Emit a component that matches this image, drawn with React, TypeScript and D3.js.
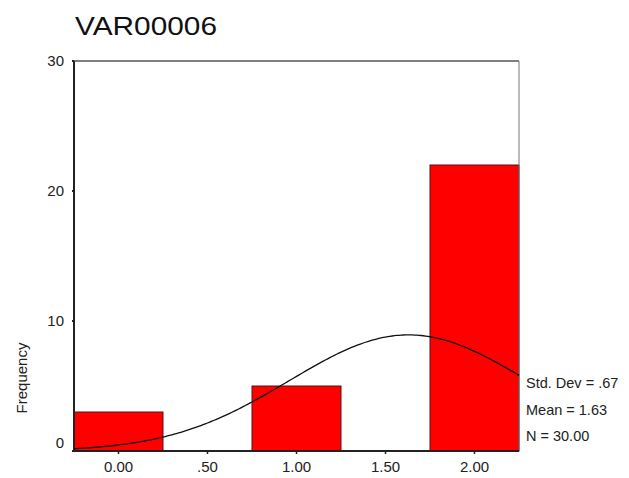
import React from "react";
import * as d3 from "d3";

const title = "VAR00006";
const binCenters = [0, 0.5, 1, 1.5, 2];
const counts = [3, 0, 5, 0, 22];
const xTickLabels = ["0.00", ".50", "1.00", "1.50", "2.00"];
const yTicks = [0, 10, 20, 30];
const stats = { sd: 0.67, mean: 1.63, n: 30 };
const statLabels = ["Std. Dev = .67", "Mean = 1.63", "N = 30.00"];
const binWidth = 0.5;

export default function App() {
  const W = 629, H = 478;
  const left = 74, right = 519, top = 61, bottom = 451;
  const x = d3.scaleLinear().domain([-0.25, 2.25]).range([left, right]);
  const y = d3.scaleLinear().domain([0, 30]).range([bottom, top]);
  const font = "Liberation Sans, Arial, sans-serif";

  const curvePts = d3.range(0, 201).map((i) => {
    const v = -0.25 + (2.5 * i) / 200;
    const z = (v - stats.mean) / stats.sd;
    const f = (stats.n * binWidth) / (stats.sd * Math.sqrt(2 * Math.PI)) * Math.exp(-0.5 * z * z);
    return [v, f] as [number, number];
  });
  const line = d3.line<[number, number]>().x((d) => x(d[0])).y((d) => y(d[1])).curve(d3.curveLinear);

  return (
    <svg width={W} height={H} style={{ position: "absolute", left: 0, top: 0, background: "#fff" }}>
      <text x={75} y={35} fontFamily={font} fontSize={26} textLength={142} lengthAdjust="spacingAndGlyphs" fill="#111">{title}</text>
      {binCenters.map((c, i) =>
        counts[i] > 0 ? (
          <rect key={i} x={x(c - binWidth / 2)} y={y(counts[i])} width={x(c + binWidth / 2) - x(c - binWidth / 2)} height={y(0) - y(counts[i])} fill="#ff0000" stroke="#5a1010" strokeWidth={1} />
        ) : null
      )}
      <line x1={left} x2={right} y1={top} y2={top} stroke="#555" strokeWidth={1.5} />
      <line x1={right} x2={right} y1={top} y2={bottom} stroke="#777" strokeWidth={1} />
      <line x1={left} x2={left} y1={top} y2={bottom} stroke="#222" strokeWidth={2} />
      <line x1={left - 2} x2={right} y1={bottom} y2={bottom} stroke="#222" strokeWidth={2} />
      <path d={line(curvePts) || ""} fill="none" stroke="#111" strokeWidth={1.3} />
      {yTicks.map((t) => (
        <g key={t}>
          <line x1={left - 2} x2={left} y1={y(t)} y2={y(t)} stroke="#222" strokeWidth={2} />
          <text x={64} y={(t === 0 ? y(t) - 8 : y(t)) + 5} textAnchor="end" fontFamily={font} fontSize={15} fill="#222">{t}</text>
        </g>
      ))}
      {binCenters.map((c, i) => (
        <g key={i}>
          <line x1={x(c)} x2={x(c)} y1={bottom} y2={bottom + 3} stroke="#222" strokeWidth={1.5} />
          <text x={x(c)} y={472} textAnchor="middle" fontFamily={font} fontSize={15} fill="#222">{xTickLabels[i]}</text>
        </g>
      ))}
      <text transform={`translate(27,378) rotate(-90)`} textAnchor="middle" fontFamily={font} fontSize={15} fill="#222">Frequency</text>
      {statLabels.map((s, i) => (
        <text key={i} x={526} y={388 + i * 26.5} fontFamily={font} fontSize={14.5} fill="#222">{s}</text>
      ))}
    </svg>
  );
}
